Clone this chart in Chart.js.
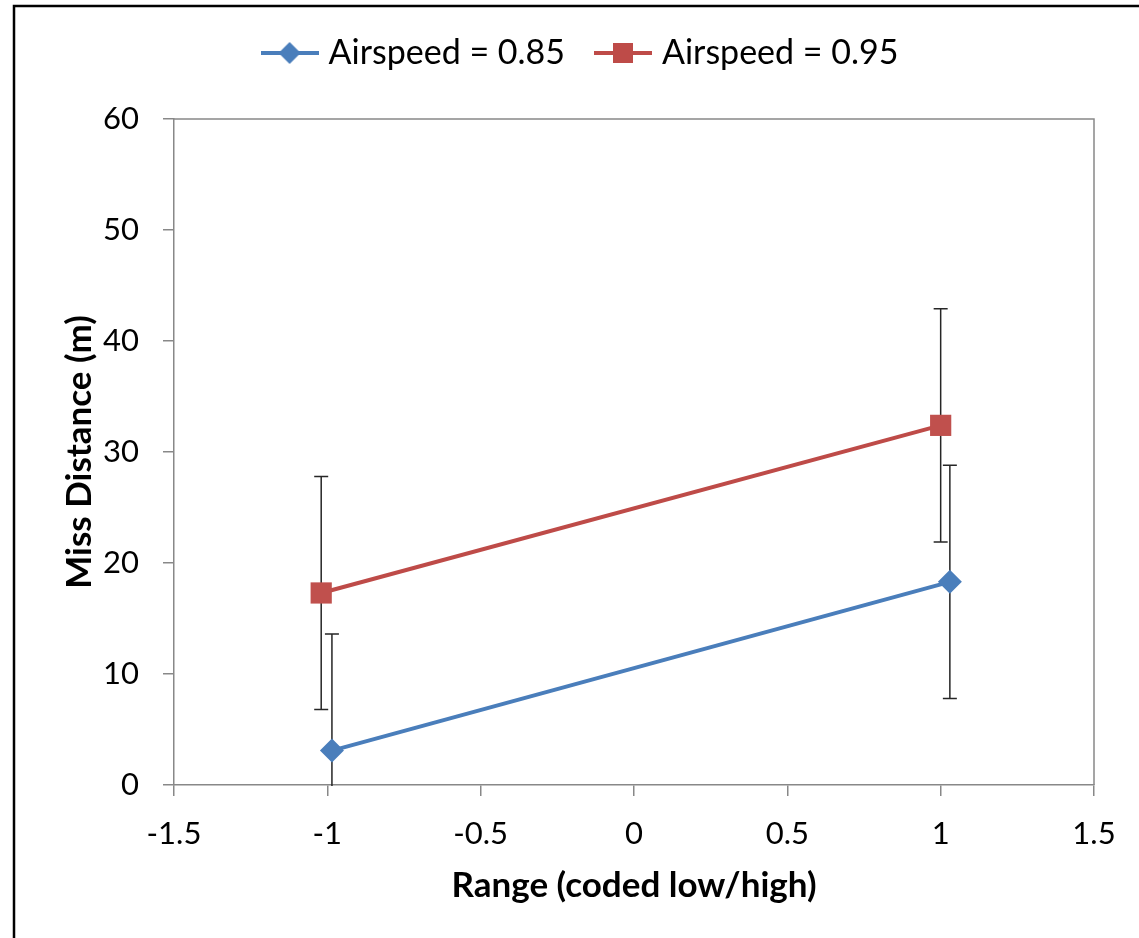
<!DOCTYPE html>
<html>
<head>
<meta charset="utf-8">
<script src="https://cdn.jsdelivr.net/npm/chart.js@4.4.1/dist/chart.umd.min.js"></script>
<style>
	html, body { margin: 0; padding: 0; background: #fff; overflow: hidden; }
	canvas { display: block; }
</style>
</head>
<body>
<canvas id="missChart" width="1139" height="938"></canvas>
<script>
// series data
const seriesNames = ['Airspeed = 0.85', 'Airspeed = 0.95'];
const blueX = [-0.985, 1.03];
const blueY = [3.1, 18.3];
const blueErr = [10.5, 10.5];
const redX = [-1.02, 1.0];
const redY = [17.3, 32.4];
const redErr = [10.5, 10.5];
const xTicks = [-1.5, -1, -0.5, 0, 0.5, 1, 1.5];
const xTickLabels = ['-1.5', '-1', '-0.5', '0', '0.5', '1', '1.5'];
const yTicks = [0, 10, 20, 30, 40, 50, 60];

const FONT = 'Lato, "Open Sans", sans-serif';
const BLUE = '#4a7ebb';
const RED = '#be4b48';

function toPoints(xs, ys) {
	return xs.map((x, i) => ({ x: x, y: ys[i] }));
}

// legend symbol: short line with the marker in the middle
function legendIcon(color, style) {
	const c = document.createElement('canvas');
	c.width = 58;
	c.height = 24;
	const g = c.getContext('2d');
	g.strokeStyle = color;
	g.lineWidth = 4;
	g.beginPath();
	g.moveTo(0, 12);
	g.lineTo(58, 12);
	g.stroke();
	g.fillStyle = color;
	if (style === 'diamond') {
		g.beginPath();
		g.moveTo(29, 1);
		g.lineTo(40, 12);
		g.lineTo(29, 23);
		g.lineTo(18, 12);
		g.closePath();
		g.fill();
	} else {
		g.fillRect(19, 2, 20, 20);
	}
	return c;
}

const frameAndErrors = {
	id: 'frameAndErrors',
	afterInit(chart) {
		// fix the legend band height so the plot top lands where the reference has it
		const legend = chart.legend;
		if (legend) {
			const fit = legend.fit.bind(legend);
			legend.fit = function () {
				fit();
				this.height = 119;
			};
			// the reference legend sits a little right of centre
			const draw = legend.draw.bind(legend);
			legend.draw = function () {
				chart.ctx.save();
				chart.ctx.translate(36, 0);
				draw();
				chart.ctx.restore();
			};
		}
	},
	beforeDraw(chart) {
		const ctx = chart.ctx;
		ctx.save();
		ctx.strokeStyle = '#000';
		ctx.lineWidth = 2.5;
		ctx.beginPath();
		ctx.moveTo(14, 938);
		ctx.lineTo(14, 6);
		ctx.lineTo(1139, 6);
		ctx.stroke();
		ctx.restore();
	},
	beforeDatasetsDraw(chart) {
		const ctx = chart.ctx;
		const area = chart.chartArea;
		const xs = chart.scales.x;
		const ys = chart.scales.y;
		ctx.save();
		ctx.beginPath();
		ctx.rect(area.left, area.top, area.right - area.left, area.bottom - area.top + 1);
		ctx.clip();
		ctx.strokeStyle = '#262626';
		ctx.lineWidth = 1.5;
		chart.data.datasets.forEach(ds => {
			ds.data.forEach((pt, i) => {
				const e = ds.errors[i];
				const px = xs.getPixelForValue(pt.x);
				const top = ys.getPixelForValue(pt.y + e);
				const bot = ys.getPixelForValue(pt.y - e);
				ctx.beginPath();
				ctx.moveTo(px, top);
				ctx.lineTo(px, bot);
				ctx.moveTo(px - 7, top);
				ctx.lineTo(px + 7, top);
				ctx.moveTo(px - 7, bot);
				ctx.lineTo(px + 7, bot);
				ctx.stroke();
			});
		});
		ctx.restore();
	},
	afterDraw(chart) {
		const ctx = chart.ctx;
		const a = chart.chartArea;
		ctx.save();
		ctx.strokeStyle = '#888';
		ctx.lineWidth = 1.5;
		ctx.beginPath();
		ctx.moveTo(a.left, a.top);
		ctx.lineTo(a.right, a.top);
		ctx.lineTo(a.right, a.bottom);
		ctx.stroke();
		ctx.restore();
	}
};

const ctx = document.getElementById('missChart');

new Chart(ctx, {
	type: 'scatter',
	data: {
		datasets: [
			{
				label: seriesNames[0],
				data: toPoints(blueX, blueY),
				errors: blueErr,
				showLine: true,
				borderColor: BLUE,
				backgroundColor: BLUE,
				borderWidth: 4,
				pointStyle: 'rectRot',
				pointRadius: 12,
				pointBorderWidth: 0,
				pointBackgroundColor: BLUE,
				legendIcon: legendIcon(BLUE, 'diamond')
			},
			{
				label: seriesNames[1],
				data: toPoints(redX, redY),
				errors: redErr,
				showLine: true,
				borderColor: RED,
				backgroundColor: '#c0504d',
				borderWidth: 4,
				pointStyle: 'rect',
				pointRadius: 15,
				pointBorderWidth: 0,
				pointBackgroundColor: '#c0504d',
				legendIcon: legendIcon(RED, 'square')
			}
		]
	},
	options: {
		responsive: false,
		animation: false,
		layout: {
			padding: { left: 0, right: 45, top: 0, bottom: 0 }
		},
		plugins: {
			tooltip: { enabled: false },
			legend: {
				position: 'top',
				labels: {
					color: '#000',
					font: { family: FONT, size: 34 },
					usePointStyle: true,
					pointStyleWidth: 44,
					boxHeight: 24,
					padding: 36,
					generateLabels(chart) {
						return chart.data.datasets.map((ds, i) => ({
							text: ds.label,
							pointStyle: ds.legendIcon,
							fillStyle: ds.backgroundColor,
							strokeStyle: ds.borderColor,
							lineWidth: 0,
							hidden: false,
							datasetIndex: i
						}));
					}
				}
			}
		},
		scales: {
			x: {
				type: 'linear',
				min: -1.5,
				max: 1.5,
				afterBuildTicks(scale) {
					scale.ticks = xTicks.map(v => ({ value: v }));
				},
				afterFit(scale) {
					scale.height = 938 - 785;
				},
				grid: {
					drawOnChartArea: false,
					color: '#888',
					tickLength: 11,
					lineWidth: 1.5
				},
				border: { color: '#888', width: 1.5 },
				ticks: {
					color: '#000',
					font: { family: FONT, size: 31 },
					padding: 19,
					maxRotation: 0,
					callback: (value, index) => xTickLabels[index]
				},
				title: {
					display: true,
					text: 'Range (coded low/high)',
					color: '#000',
					font: { family: FONT, size: 35, weight: 'bold' },
					padding: { top: 0, bottom: 31 }
				}
			},
			y: {
				type: 'linear',
				min: 0,
				max: 60,
				afterBuildTicks(scale) {
					scale.ticks = yTicks.map(v => ({ value: v }));
				},
				afterFit(scale) {
					scale.width = 174;
				},
				grid: {
					drawOnChartArea: false,
					color: '#888',
					tickLength: 11,
					lineWidth: 1.5
				},
				border: { color: '#888', width: 1.5 },
				ticks: {
					color: '#000',
					font: { family: FONT, size: 31 },
					padding: 24
				},
				title: {
					display: true,
					text: 'Miss Distance (m)',
					color: '#000',
					font: { family: FONT, size: 35, weight: 'bold' },
					padding: { top: 59, bottom: 0 }
				}
			}
		}
	},
	plugins: [frameAndErrors]
});
</script>
</body>
</html>
